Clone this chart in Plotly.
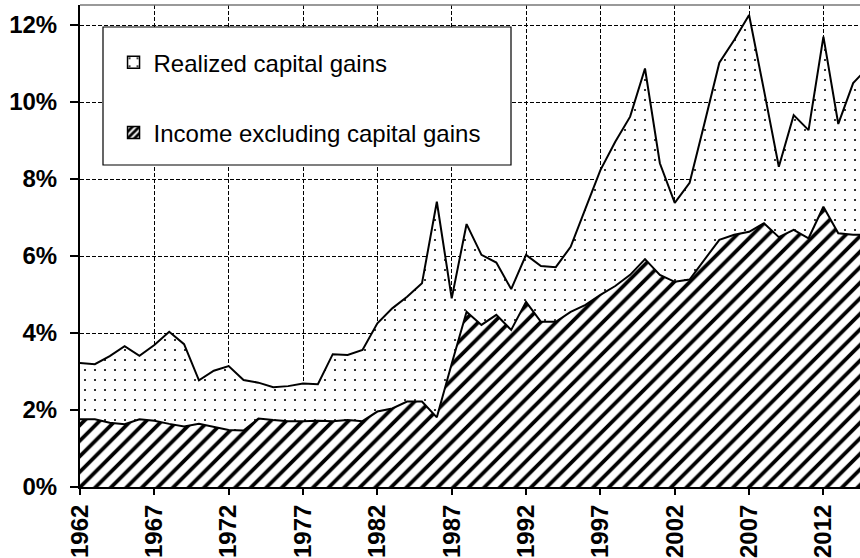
import plotly.graph_objects as go

YEARS = list(range(1962, 2016))

# income excluding capital gains (lower band), % share
INCOME_EXCL_CG = [
    1.76, 1.76, 1.67, 1.63, 1.76, 1.72, 1.64, 1.57, 1.64, 1.57,
    1.48, 1.47, 1.78, 1.74, 1.71, 1.71, 1.72, 1.71, 1.74, 1.71,
    1.96, 2.04, 2.22, 2.22, 1.81, 3.20, 4.55, 4.21, 4.47, 4.08,
    4.81, 4.29, 4.29, 4.55, 4.73, 4.99, 5.22, 5.51, 5.92, 5.51,
    5.33, 5.39, 5.90, 6.42, 6.55, 6.63, 6.85, 6.49, 6.68, 6.46,
    7.28, 6.59, 6.55, 6.55,
]

# income including realized capital gains (top line), % share
TOTAL_INCL_CG = [
    3.22, 3.19, 3.40, 3.66, 3.41, 3.69, 4.03, 3.71, 2.77, 3.02,
    3.14, 2.78, 2.71, 2.59, 2.62, 2.69, 2.67, 3.45, 3.43, 3.56,
    4.25, 4.64, 4.94, 5.29, 7.41, 4.90, 6.83, 6.03, 5.83, 5.14,
    6.03, 5.74, 5.71, 6.24, 7.24, 8.23, 8.97, 9.62, 10.87, 8.41,
    7.38, 7.90, 9.45, 11.02, 11.61, 12.26, 10.31, 8.32, 9.66, 9.27,
    11.70, 9.43, 10.49, 10.90,
]

LABEL_CG = "Realized capital gains"
LABEL_INC = "Income excluding capital gains"

FONT = "Arial, Liberation Sans, sans-serif"
HATCH = dict(shape="/", fgcolor="black", bgcolor="white", fgopacity=1,
             fillmode="replace", size=11, solidity=0.34)
DOTS = dict(shape=".", fgcolor="black", bgcolor="white", fgopacity=1,
            fillmode="replace", size=10, solidity=0.035)

fig = go.Figure()

fig.add_trace(go.Scatter(
    x=YEARS, y=INCOME_EXCL_CG, mode="lines", fill="tozeroy", fillcolor="black",
    line=dict(color="black", width=2), fillpattern=HATCH,
    showlegend=False,
))
fig.add_trace(go.Scatter(
    x=YEARS, y=TOTAL_INCL_CG, mode="lines", fill="tonexty", fillcolor="black",
    line=dict(color="black", width=2), fillpattern=DOTS,
    showlegend=False,
))

# legend-only swatches (square pattern boxes)
fig.add_trace(go.Bar(
    x=[None], y=[None], name=LABEL_CG, legendgroup="cg", legendrank=1,
    marker=dict(color="black", opacity=1, line=dict(color="black", width=1.5),
                pattern=dict(shape=".", fgcolor="black", bgcolor="white", fgopacity=1,
                             fillmode="replace", size=10, solidity=0.05)),
))
fig.add_trace(go.Bar(
    x=[None], y=[None], name=LABEL_INC, legendgroup="inc", legendrank=2,
    marker=dict(color="black", opacity=1, line=dict(color="black", width=1.5),
                pattern=dict(shape="/", fgcolor="black", bgcolor="white", fgopacity=1,
                             fillmode="replace", size=6, solidity=0.6)),
))

fig.update_layout(
    width=860, height=558,
    margin=dict(l=80, r=0, t=5, b=71),
    paper_bgcolor="white", plot_bgcolor="white",
    font=dict(family=FONT, color="black"),
    legend=dict(
        x=0.043, y=0.927, xanchor="left", yanchor="top",
        bgcolor="rgba(0,0,0,0)", borderwidth=0,
        font=dict(size=24, family=FONT, color="black"),
        tracegroupgap=36, itemwidth=30,
    ),
    shapes=[
        dict(type="rect", xref="paper", yref="paper",
             x0=(103 - 80) / 780, x1=(511 - 80) / 780,
             y0=(487 - 165) / 482, y1=(487 - 27) / 482,
             line=dict(color="black", width=1.2), fillcolor="white", layer="above"),
        dict(type="line", xref="paper", yref="paper", x0=0, x1=1, y0=1, y1=1,
             line=dict(color="#777", width=1.5)),
    ],
)

fig.update_xaxes(
    range=[1962, 2014.46], tick0=1962, dtick=5, tickangle=-90,
    showgrid=True, gridcolor="black", gridwidth=1, griddash="4px,2px",
    showline=True, linecolor="black", linewidth=2,
    ticks="outside", ticklen=6, tickwidth=1.5, tickcolor="black",
    tickfont=dict(size=24, family=FONT, weight="bold", color="black"),
    zeroline=False,
)
fig.update_yaxes(
    range=[0, 12.52], tick0=0, dtick=2, ticksuffix="%",
    showgrid=True, gridcolor="black", gridwidth=1, griddash="4px,2px",
    showline=True, linecolor="black", linewidth=2,
    ticks="outside", ticklen=8, tickwidth=1.5, tickcolor="black",
    tickfont=dict(size=24, family=FONT, weight="bold", color="black"),
    ticklabelstandoff=8,
    zeroline=False,
)

fig.write_html(
    "out.html",
    config={"displayModeBar": False},
    post_script="document.body.style.margin='0';",
)
